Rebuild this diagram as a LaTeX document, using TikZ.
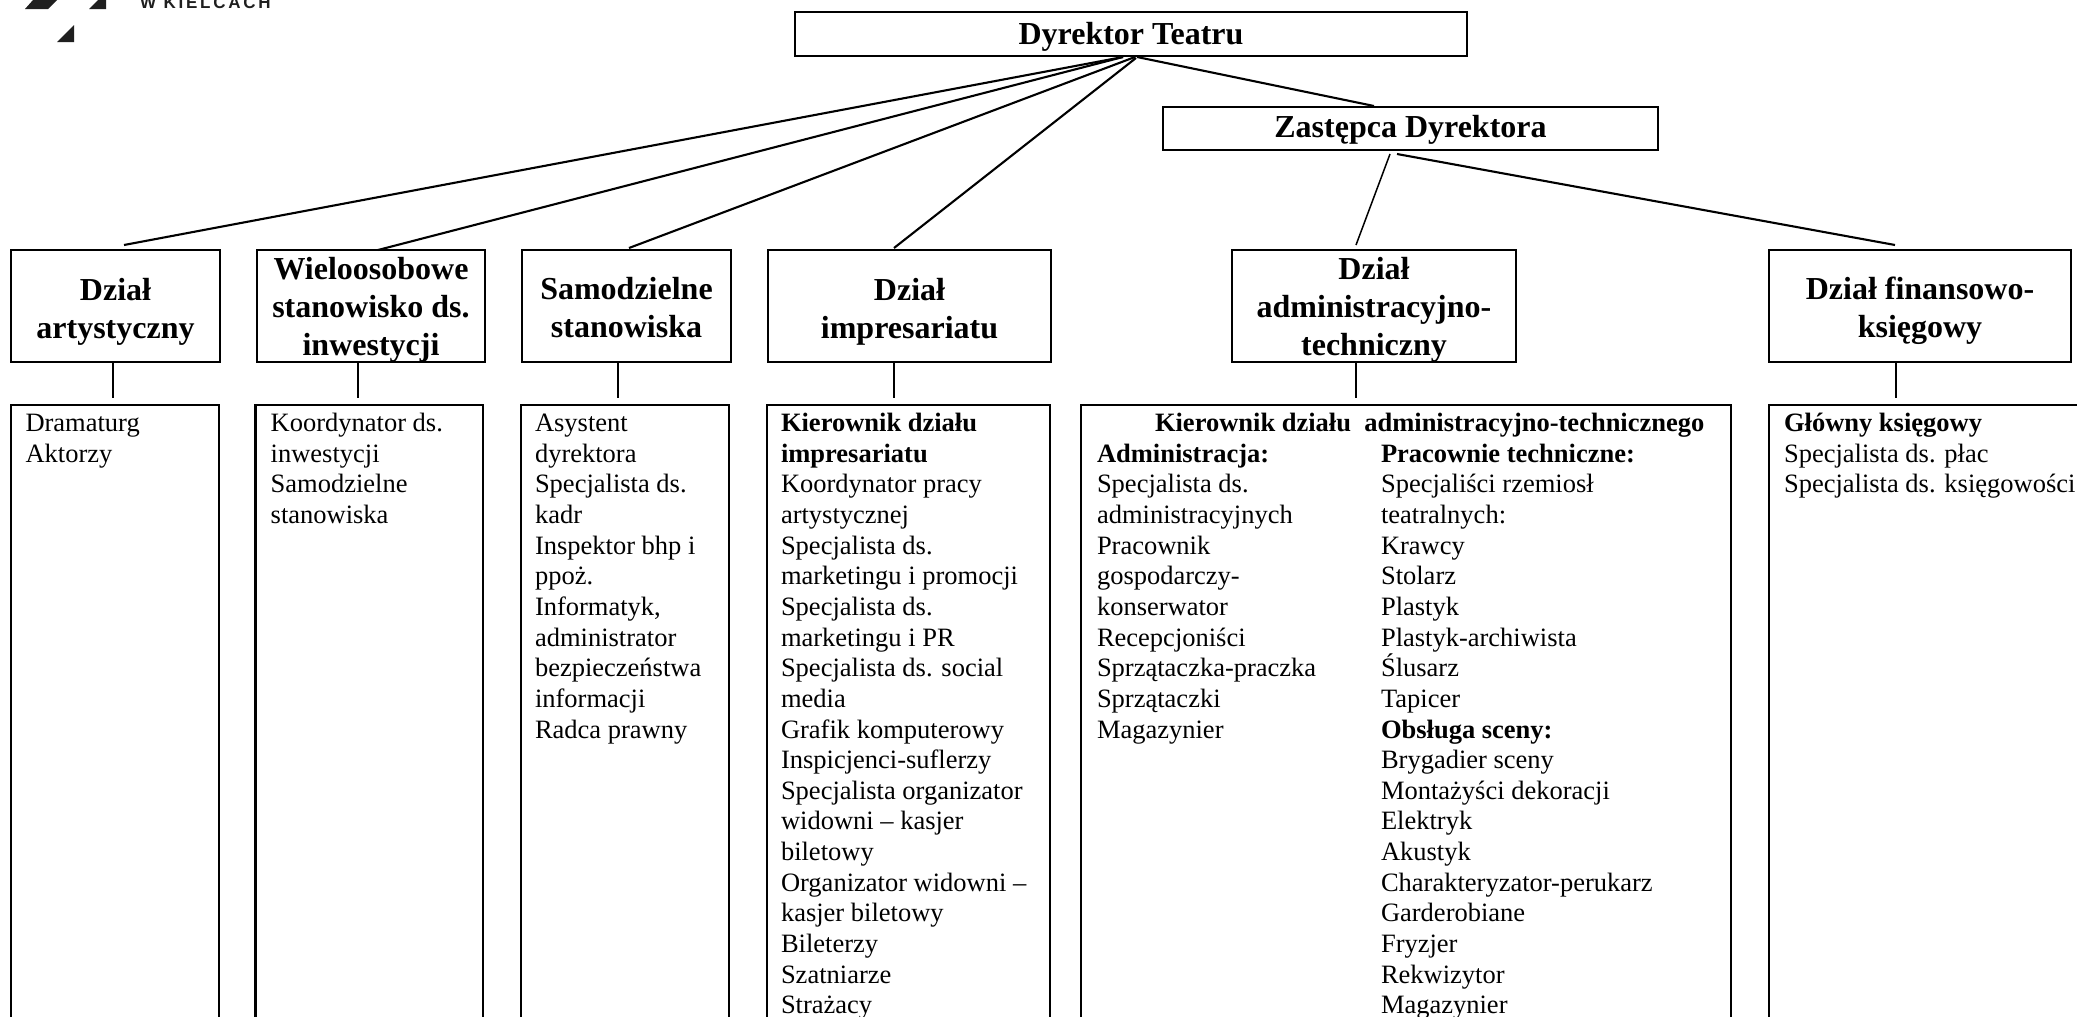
\documentclass[tikz,border=0pt]{standalone}
\usepackage{fontspec}
\setmainfont{Liberation Serif}
\newfontfamily\logofont[LetterSpace=16]{Liberation Sans}
\newcommand{\lstrut}{\rule{0pt}{23pt}}
\newcommand{\hstrut}[1]{\rule{0pt}{#1pt}}
\tikzset{
  x=1pt,y=1pt,
  boxline/.style={draw=black,line width=2.3pt,inner sep=0pt,outer sep=0pt,fill=white},
  headbox/.style={boxline,align=center,font=\fontsize{32}{38}\selectfont\bfseries},
  listbox/.style={boxline,anchor=north west,minimum height=700pt},
  listtext/.style={anchor=north west,inner sep=0pt,outer sep=0pt,align=left,font=\fontsize{26.5}{30.65}\selectfont},
  fanline/.style={line width=2.1pt},
  thinline/.style={line width=1.5pt},
  logoshape/.style={fill=black!88,draw=none}
}
\begin{document}
\begin{tikzpicture}
\clip (0,0) rectangle (2077,-1017);
\fill[white] (0,0) rectangle (2077,-1017);
% logo fragments
\fill[logoshape] (25,-9) -- (48,-9) -- (57,0) -- (33,0) -- cycle;
\fill[logoshape] (89,-9) -- (106,-9) -- (106,0) -- (98,0) -- cycle;
\fill[logoshape] (57,-42) -- (74,-42) -- (74,-25) -- cycle;
\node[anchor=base west,inner sep=0pt,text=black!88,font=\fontsize{17}{17}\selectfont\logofont\bfseries] (logotext) at (140,-9) {W KIELCACH};
% top boxes
\node[headbox,minimum width=672pt,minimum height=44pt] (dyr) at (1131,-34) {\hstrut{27}Dyrektor Teatru};
\node[headbox,minimum width=495pt,minimum height=43pt] (zas) at (1410.5,-128.5) {\hstrut{25}Zastępca Dyrektora};
% department boxes
\node[headbox,minimum width=209pt,minimum height=112pt] (art) at (115.5,-306) {\hstrut{33}Dział\\artystyczny};
\node[headbox,minimum width=228pt,minimum height=112pt] (wiel) at (371,-306) {\hstrut{22}Wieloosobowe\\stanowisko ds.\\\smash{inwestycji}};
\node[headbox,minimum width=209pt,minimum height=112pt] (sam) at (626.5,-306) {\hstrut{25}Samodzielne\\stanowiska};
\node[headbox,minimum width=283pt,minimum height=112pt] (imp) at (909.5,-306) {\hstrut{33}Dział\\impresariatu};
\node[headbox,minimum width=284pt,minimum height=112pt] (adm) at (1374,-306) {\hstrut{22}Dział\\administracyjno-\\\smash{techniczny}};
\node[headbox,minimum width=302pt,minimum height=112pt] (fin) at (1920,-306) {\hstrut{33}Dział finansowo-\\księgowy};
% list boxes
\node[listbox,minimum width=208pt] (artl) at (11,-405) {};
\node[listbox,minimum width=227.5pt] (wiell) at (255.5,-405) {};
\node[listbox,minimum width=208pt] (saml) at (521,-405) {};
\node[listbox,minimum width=283pt] (impl) at (767,-405) {};
\node[listbox,minimum width=650pt] (adml) at (1081,-405) {};
\node[listbox,minimum width=400pt] (finl) at (1769,-405) {};
% list texts
\node[listtext] (artt) at (25.5,-408.5) {\lstrut Dramaturg\\Aktorzy};
\node[listtext] (wielt) at (270.7,-408.5) {\lstrut Koordynator ds.\\inwestycji\\Samodzielne\\stanowiska};
\node[listtext] (samt) at (535,-408.5) {\lstrut Asystent\\dyrektora\\Specjalista ds.\\kadr\\Inspektor bhp i\\ppoż.\\Informatyk,\\administrator\\bezpieczeństwa\\informacji\\Radca prawny};
\node[listtext] (impt) at (781,-408.5) {\lstrut \textbf{Kierownik działu}\\\textbf{impresariatu}\\Koordynator pracy\\artystycznej\\Specjalista ds.\\marketingu i promocji\\Specjalista ds.\\marketingu i PR\\Specjalista ds. social\\media\\Grafik komputerowy\\Inspicjenci-suflerzy\\Specjalista organizator\\widowni – kasjer\\biletowy\\Organizator widowni –\\kasjer biletowy\\Bileterzy\\Szatniarze\\Strażacy};
\node[listtext] (admh) at (1155,-408.5) {\lstrut \textbf{Kierownik działu\ \ administracyjno-technicznego}};
\node[listtext] (admlt) at (1097,-439.15) {\lstrut \textbf{Administracja:}\\Specjalista ds.\\administracyjnych\\Pracownik\\gospodarczy-\\konserwator\\Recepcjoniści\\Sprzątaczka-praczka\\Sprzątaczki\\Magazynier};
\node[listtext] (admrt) at (1381,-439.15) {\lstrut \textbf{Pracownie techniczne:}\\Specjaliści rzemiosł\\teatralnych:\\Krawcy\\Stolarz\\Plastyk\\Plastyk-archiwista\\Ślusarz\\Tapicer\\\textbf{Obsługa sceny:}\\Brygadier sceny\\Montażyści dekoracji\\Elektryk\\Akustyk\\Charakteryzator-perukarz\\Garderobiane\\Fryzjer\\Rekwizytor\\Magazynier};
\node[listtext] (fint) at (1784,-408.5) {\lstrut \textbf{Główny księgowy}\\Specjalista ds. płac\\Specjalista ds. księgowości};
% fan from the director
\draw[fanline] ([shift={(-8,-1)}]dyr.south) -- ([shift={(8.5,5)}]art.north);
\draw[fanline] ([shift={(-8,-1)}]dyr.south) -- ([shift={(7,0)}]wiel.north);
\draw[fanline] ([shift={(4,-1)}]dyr.south) -- ([shift={(2.5,2)}]sam.north);
\draw[fanline] ([shift={(5,-2)}]dyr.south) -- ([shift={(-15.5,2)}]imp.north);
\draw[fanline] ([shift={(6,-1)}]dyr.south) -- ([shift={(-36.5,1)}]zas.north);
% from the deputy
\draw[thinline] ([shift={(-20.5,-4)}]zas.south) -- ([shift={(-18,5)}]adm.north);
\draw[fanline] ([shift={(-13.5,-4)}]zas.south) -- ([shift={(-25,5)}]fin.north);
% department to list
\draw[thinline] ([xshift=-2.5pt]art.south) -- ([xshift=-2.5pt,yshift=7pt]artl.north west -| art.south);
\draw[thinline] ([xshift=-13pt]wiel.south) -- ([xshift=-13pt,yshift=7pt]wiell.north west -| wiel.south);
\draw[thinline] ([xshift=-8.5pt]sam.south) -- ([xshift=-8.5pt,yshift=7pt]saml.north west -| sam.south);
\draw[thinline] ([xshift=-15.5pt]imp.south) -- ([xshift=-15.5pt,yshift=7pt]impl.north west -| imp.south);
\draw[thinline] ([xshift=-18pt]adm.south) -- ([xshift=-18pt,yshift=7pt]adml.north west -| adm.south);
\draw[thinline] ([xshift=-24pt]fin.south) -- ([xshift=-24pt,yshift=7pt]finl.north west -| fin.south);
\end{tikzpicture}
\end{document}
